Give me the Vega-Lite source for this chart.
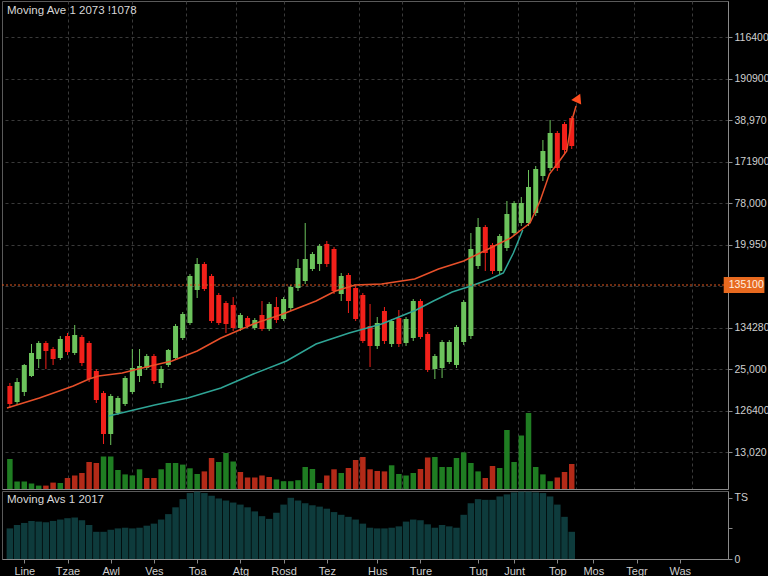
{
  "$schema": "https://vega.github.io/schema/vega-lite/v6.json",
  "background": "#000000",
  "padding": 0,
  "spacing": 0,
  "config": {
    "view": {"stroke": "#5a5a5a", "strokeWidth": 1},
    "font": "Liberation Sans",
    "axis": {"labelColor": "#cfcfcf", "labelFont": "Liberation Sans", "domainColor": "#8a8a8a", "tickColor": "#8a8a8a", "gridColor": "#3a3a3a", "gridDash": [3, 3], "title": null, "labelOverlap": false},
    "title": {"color": "#d8d8d8", "fontSize": 11.5, "fontWeight": "normal", "anchor": "start", "frame": "group", "font": "Liberation Sans"}
  },
  "datasets": {
    "candles": [
      {"i":1,"open":103,"high":106,"low":81,"close":85,"volume":30,"vol_dir":"up","osc":0.45},
      {"i":2,"open":87,"high":111,"low":84,"close":107,"volume":7.5,"vol_dir":"up","osc":0.50},
      {"i":3,"open":97,"high":125,"low":93,"close":124,"volume":7.5,"vol_dir":"up","osc":0.53},
      {"i":4,"open":113,"high":145,"low":112,"close":136,"volume":5.4,"vol_dir":"up","osc":0.56},
      {"i":5,"open":130,"high":148,"low":121,"close":146,"volume":3.4,"vol_dir":"up","osc":0.55},
      {"i":6,"open":146,"high":148,"low":120,"close":138,"volume":3.4,"vol_dir":"down","osc":0.54},
      {"i":7,"open":140,"high":142,"low":124,"close":130,"volume":6.4,"vol_dir":"down","osc":0.56},
      {"i":8,"open":131,"high":153,"low":129,"close":150,"volume":6,"vol_dir":"up","osc":0.58},
      {"i":9,"open":153,"high":156,"low":134,"close":137,"volume":11,"vol_dir":"down","osc":0.60},
      {"i":10,"open":136,"high":164,"low":134,"close":154,"volume":13.5,"vol_dir":"down","osc":0.61},
      {"i":11,"open":152,"high":154,"low":123,"close":126,"volume":16,"vol_dir":"down","osc":0.57},
      {"i":12,"open":146,"high":148,"low":107,"close":110,"volume":27,"vol_dir":"down","osc":0.50},
      {"i":13,"open":118,"high":120,"low":86,"close":89,"volume":26,"vol_dir":"down","osc":0.40},
      {"i":14,"open":96,"high":98,"low":45,"close":55,"volume":32.5,"vol_dir":"up","osc":0.40},
      {"i":15,"open":55,"high":95,"low":44,"close":93,"volume":32.5,"vol_dir":"up","osc":0.43},
      {"i":16,"open":76,"high":93,"low":74,"close":91,"volume":19,"vol_dir":"up","osc":0.45},
      {"i":17,"open":85,"high":113,"low":83,"close":111,"volume":14.6,"vol_dir":"up","osc":0.46},
      {"i":18,"open":97,"high":140,"low":95,"close":121,"volume":13.6,"vol_dir":"up","osc":0.45},
      {"i":19,"open":113,"high":140,"low":107,"close":123,"volume":19.7,"vol_dir":"up","osc":0.46},
      {"i":20,"open":121,"high":135,"low":119,"close":133,"volume":11,"vol_dir":"down","osc":0.49},
      {"i":21,"open":133,"high":135,"low":105,"close":108,"volume":11,"vol_dir":"down","osc":0.52},
      {"i":22,"open":106,"high":123,"low":101,"close":120,"volume":19.7,"vol_dir":"up","osc":0.58},
      {"i":23,"open":124,"high":140,"low":122,"close":139,"volume":26,"vol_dir":"up","osc":0.66},
      {"i":24,"open":131,"high":165,"low":129,"close":163,"volume":26,"vol_dir":"up","osc":0.76},
      {"i":25,"open":151,"high":177,"low":149,"close":175,"volume":24.4,"vol_dir":"up","osc":0.88},
      {"i":26,"open":166,"high":215,"low":164,"close":213,"volume":20.7,"vol_dir":"up","osc":0.97},
      {"i":27,"open":199,"high":231,"low":191,"close":225,"volume":15,"vol_dir":"up","osc":0.99},
      {"i":28,"open":225,"high":227,"low":198,"close":200,"volume":17.6,"vol_dir":"down","osc":0.97},
      {"i":29,"open":213,"high":215,"low":166,"close":168,"volume":31,"vol_dir":"down","osc":0.93},
      {"i":30,"open":194,"high":196,"low":164,"close":166,"volume":27,"vol_dir":"up","osc":0.89},
      {"i":31,"open":186,"high":188,"low":156,"close":165,"volume":36,"vol_dir":"up","osc":0.86},
      {"i":32,"open":184,"high":192,"low":158,"close":161,"volume":27.5,"vol_dir":"up","osc":0.83},
      {"i":33,"open":161,"high":176,"low":158,"close":174,"volume":17,"vol_dir":"down","osc":0.80},
      {"i":34,"open":171,"high":173,"low":161,"close":163,"volume":11.5,"vol_dir":"down","osc":0.76},
      {"i":35,"open":161,"high":171,"low":159,"close":169,"volume":11.5,"vol_dir":"down","osc":0.70},
      {"i":36,"open":174,"high":188,"low":158,"close":160,"volume":13.5,"vol_dir":"down","osc":0.63},
      {"i":37,"open":160,"high":187,"low":158,"close":185,"volume":12,"vol_dir":"down","osc":0.59},
      {"i":38,"open":182,"high":192,"low":166,"close":169,"volume":9.5,"vol_dir":"up","osc":0.68},
      {"i":39,"open":170,"high":192,"low":168,"close":190,"volume":7.8,"vol_dir":"up","osc":0.80},
      {"i":40,"open":181,"high":204,"low":178,"close":202,"volume":7.8,"vol_dir":"up","osc":0.90},
      {"i":41,"open":201,"high":230,"low":198,"close":221,"volume":8.8,"vol_dir":"up","osc":0.86},
      {"i":42,"open":208,"high":266,"low":205,"close":230,"volume":22,"vol_dir":"up","osc":0.82},
      {"i":43,"open":220,"high":237,"low":218,"close":235,"volume":20,"vol_dir":"up","osc":0.79},
      {"i":44,"open":225,"high":245,"low":218,"close":243,"volume":6,"vol_dir":"up","osc":0.77},
      {"i":45,"open":245,"high":248,"low":222,"close":225,"volume":13.5,"vol_dir":"down","osc":0.74},
      {"i":46,"open":240,"high":242,"low":195,"close":198,"volume":19.7,"vol_dir":"down","osc":0.69},
      {"i":47,"open":195,"high":216,"low":188,"close":213,"volume":16,"vol_dir":"up","osc":0.65},
      {"i":48,"open":214,"high":216,"low":176,"close":188,"volume":21,"vol_dir":"down","osc":0.62},
      {"i":49,"open":201,"high":203,"low":168,"close":170,"volume":29,"vol_dir":"down","osc":0.58},
      {"i":50,"open":194,"high":196,"low":146,"close":148,"volume":32,"vol_dir":"down","osc":0.52},
      {"i":51,"open":163,"high":185,"low":122,"close":143,"volume":19.7,"vol_dir":"down","osc":0.46},
      {"i":52,"open":143,"high":172,"low":140,"close":166,"volume":18,"vol_dir":"down","osc":0.45},
      {"i":53,"open":178,"high":182,"low":145,"close":148,"volume":17.6,"vol_dir":"down","osc":0.45},
      {"i":54,"open":145,"high":170,"low":142,"close":168,"volume":23.7,"vol_dir":"up","osc":0.46},
      {"i":55,"open":171,"high":179,"low":142,"close":145,"volume":15,"vol_dir":"up","osc":0.48},
      {"i":56,"open":146,"high":172,"low":143,"close":170,"volume":13.5,"vol_dir":"up","osc":0.55},
      {"i":57,"open":151,"high":190,"low":148,"close":188,"volume":16,"vol_dir":"up","osc":0.58},
      {"i":58,"open":188,"high":190,"low":150,"close":152,"volume":20,"vol_dir":"down","osc":0.57},
      {"i":59,"open":155,"high":157,"low":117,"close":119,"volume":31.5,"vol_dir":"down","osc":0.51},
      {"i":60,"open":120,"high":135,"low":110,"close":133,"volume":32,"vol_dir":"up","osc":0.46},
      {"i":61,"open":121,"high":149,"low":111,"close":147,"volume":22,"vol_dir":"up","osc":0.50},
      {"i":62,"open":127,"high":149,"low":125,"close":147,"volume":22,"vol_dir":"up","osc":0.48},
      {"i":63,"open":124,"high":164,"low":121,"close":162,"volume":31,"vol_dir":"up","osc":0.46},
      {"i":64,"open":147,"high":189,"low":144,"close":187,"volume":36.6,"vol_dir":"up","osc":0.65},
      {"i":65,"open":153,"high":256,"low":150,"close":240,"volume":26,"vol_dir":"up","osc":0.82},
      {"i":66,"open":223,"high":271,"low":220,"close":262,"volume":17.6,"vol_dir":"up","osc":0.88},
      {"i":67,"open":262,"high":264,"low":218,"close":236,"volume":11,"vol_dir":"down","osc":0.87},
      {"i":68,"open":244,"high":246,"low":215,"close":218,"volume":23,"vol_dir":"down","osc":0.87},
      {"i":69,"open":218,"high":255,"low":215,"close":253,"volume":21,"vol_dir":"up","osc":0.92},
      {"i":70,"open":241,"high":288,"low":238,"close":275,"volume":59,"vol_dir":"up","osc":0.95},
      {"i":71,"open":256,"high":288,"low":253,"close":286,"volume":27,"vol_dir":"up","osc":0.98},
      {"i":72,"open":266,"high":292,"low":263,"close":286,"volume":53.5,"vol_dir":"up","osc":0.99},
      {"i":73,"open":266,"high":319,"low":263,"close":302,"volume":76,"vol_dir":"up","osc":0.99},
      {"i":74,"open":276,"high":323,"low":273,"close":320,"volume":22,"vol_dir":"up","osc":0.98},
      {"i":75,"open":313,"high":349,"low":308,"close":338,"volume":14.6,"vol_dir":"up","osc":0.97},
      {"i":76,"open":321,"high":369,"low":318,"close":356,"volume":7.8,"vol_dir":"up","osc":0.92},
      {"i":77,"open":356,"high":358,"low":318,"close":321,"volume":11.5,"vol_dir":"down","osc":0.80},
      {"i":78,"open":365,"high":367,"low":336,"close":339,"volume":17,"vol_dir":"down","osc":0.62},
      {"i":79,"open":371,"high":373,"low":340,"close":343,"volume":25,"vol_dir":"down","osc":0.40}
    ],
    "ma_fast": [
      {"i":0.6,"value":81},{"i":5.1,"value":91},{"i":9.8,"value":103},{"i":12,"value":110},{"i":13.3,"value":113},
      {"i":16.6,"value":116},{"i":18.8,"value":120},{"i":21.1,"value":124},{"i":23.5,"value":128},{"i":27,"value":138},
      {"i":30.3,"value":151},{"i":34.8,"value":165},{"i":38.9,"value":175},{"i":43.5,"value":188},{"i":46.2,"value":198},
      {"i":48.9,"value":204},{"i":52.6,"value":205},{"i":57.2,"value":210},{"i":60.5,"value":220},{"i":64,"value":228},
      {"i":67.7,"value":241},{"i":70.5,"value":251},{"i":73.2,"value":266},{"i":74.6,"value":288},{"i":75.9,"value":315},
      {"i":77.3,"value":328},{"i":78.3,"value":338},{"i":79,"value":368},{"i":79.6,"value":383}
    ],
    "ma_slow": [
      {"i":14.7,"value":73},{"i":21.1,"value":84},{"i":25.7,"value":91},{"i":30.3,"value":101},{"i":34.8,"value":115},
      {"i":39.4,"value":128},{"i":43.5,"value":145},{"i":48.1,"value":156},{"i":52.6,"value":165},{"i":57.4,"value":179},
      {"i":59.8,"value":188},{"i":62.4,"value":197},{"i":65,"value":203},{"i":67.7,"value":210},{"i":69.5,"value":216},
      {"i":70.9,"value":236},{"i":72.2,"value":259}
    ],
    "last_price": [{"value":204,"label":"135100"}],
    "arrow": [{"i":79.9,"value":391}]
  },
  "vconcat": [
    {
      "width": 726,
      "height": 488,
      "title": {"text": "Moving Ave 1 2073 !1078", "offset": -15, "dx": 5},
      "layer": [
        {
          "data": {"name": "candles"},
          "mark": {"type": "rule", "strokeWidth": 1},
          "encoding": {
            "x": {"field": "i", "type": "quantitative",
                  "scale": {"domain": [0.6, 100], "nice": false, "zero": false},
                  "axis": {"orient": "bottom", "values": [9.1, 17.9, 25.4, 32.4, 39.1, 49.5, 55.5, 64, 71.5, 79.6, 87.7, 95.7],
                           "labels": false, "ticks": false, "domain": true, "grid": true}},
            "y": {"field": "low", "type": "quantitative",
                  "scale": {"domain": [0, 488], "nice": false, "zero": false},
                  "axis": {"orient": "right",
                           "values": [37, 78.5, 120, 161.5, 203, 244.5, 286, 327.5, 369, 410.5, 452],
                           "labelExpr": "['13,020', '126400', '25,000', '134280', '', '19,950', '78,000', '171900', '38,970', '190900', '116400'][indexof([37, 78.5, 120, 161.5, 203, 244.5, 286, 327.5, 369, 410.5, 452], datum.value)]",
                           "labelOverlap": false,
                           "grid": true,
                           "tickSize": 4,
                           "labelFontSize": 10.5, "labelPadding": 2, "domain": true}},
            "y2": {"field": "high"},
            "color": {"condition": {"test": "datum.close >= datum.open", "value": "#6cc35c"}, "value": "#f2201a"}
          }
        },
        {
          "data": {"name": "candles"},
          "mark": {"type": "bar", "width": 5},
          "encoding": {
            "x": {"field": "i", "type": "quantitative"},
            "y": {"field": "open", "type": "quantitative"},
            "y2": {"field": "close"},
            "color": {"condition": {"test": "datum.close >= datum.open", "value": "#6cc35c"}, "value": "#f2201a"}
          }
        },
        {
          "data": {"name": "candles"},
          "mark": {"type": "bar", "width": 5.5},
          "encoding": {
            "x": {"field": "i", "type": "quantitative"},
            "y": {"field": "volume", "type": "quantitative"},
            "color": {"field": "vol_dir", "type": "nominal", "scale": {"domain": ["up", "down"], "range": ["#1f7d22", "#b32a18"]}, "legend": null}
          }
        },
        {
          "data": {"name": "ma_slow"},
          "mark": {"type": "line", "color": "#2fa596", "strokeWidth": 1.5},
          "encoding": {
            "x": {"field": "i", "type": "quantitative"},
            "y": {"field": "value", "type": "quantitative"}
          }
        },
        {
          "data": {"name": "ma_fast"},
          "mark": {"type": "line", "color": "#e8502a", "strokeWidth": 1.5},
          "encoding": {
            "x": {"field": "i", "type": "quantitative"},
            "y": {"field": "value", "type": "quantitative"}
          }
        },
        {
          "data": {"name": "last_price"},
          "mark": {"type": "rule", "color": "#e0561f", "strokeDash": [2, 2], "strokeWidth": 1.2},
          "encoding": {
            "y": {"field": "value", "type": "quantitative"}
          }
        },
        {
          "data": {"name": "last_price"},
          "mark": {"type": "rect", "color": "#e86a1f"},
          "encoding": {
            "x": {"datum": 100.1},
            "x2": {"datum": 105.75},
            "y": {"datum": 196},
            "y2": {"datum": 212}
          }
        },
        {
          "data": {"name": "last_price"},
          "mark": {"type": "text", "align": "left", "baseline": "middle", "fontSize": 10.5, "color": "#fff0e0"},
          "encoding": {
            "x": {"datum": 100.8},
            "y": {"field": "value", "type": "quantitative"},
            "text": {"field": "label"}
          }
        },
        {
          "data": {"name": "arrow"},
          "mark": {"type": "point", "shape": "triangle-up", "filled": true, "size": 120, "angle": 25, "color": "#ff4d1f", "opacity": 1},
          "encoding": {
            "x": {"field": "i", "type": "quantitative"},
            "y": {"field": "value", "type": "quantitative"}
          }
        }
      ]
    },
    {
      "width": 726,
      "height": 68,
      "title": {"text": "Moving Avs 1 2017", "offset": -14, "dx": 5},
      "data": {"name": "candles"},
      "mark": {"type": "bar", "width": 6.5, "color": "#0e3b3c"},
      "encoding": {
        "x": {"field": "i", "type": "quantitative",
              "scale": {"domain": [0.6, 100], "nice": false, "zero": false},
              "axis": {"values": [3, 9, 15, 21, 27, 33, 39, 45, 52, 58, 66, 71, 77, 82, 88, 94],
                       "labelExpr": "['Line','Tzae','Awl','Ves','Toa','Atg','Rosd','Tez','Hus','Ture','Tug','Junt','Top','Mos','Tegr','Was'][indexof([3, 9, 15, 21, 27, 33, 39, 45, 52, 58, 66, 71, 77, 82, 88, 94], datum.value)]",
                       "grid": false, "tickSize": 4, "labelFontSize": 11, "labelPadding": 2}},
        "y": {"field": "osc", "type": "quantitative",
              "scale": {"domain": [0, 1], "nice": false},
              "axis": {"orient": "right", "values": [0, 0.45, 0.9],
                       "labelExpr": "datum.value == 0 ? '0' : (datum.value > 0.8 ? 'TS' : '')",
                       "grid": false, "tickSize": 4, "labelFontSize": 10.5, "labelPadding": 2}}
      }
    }
  ]
}
